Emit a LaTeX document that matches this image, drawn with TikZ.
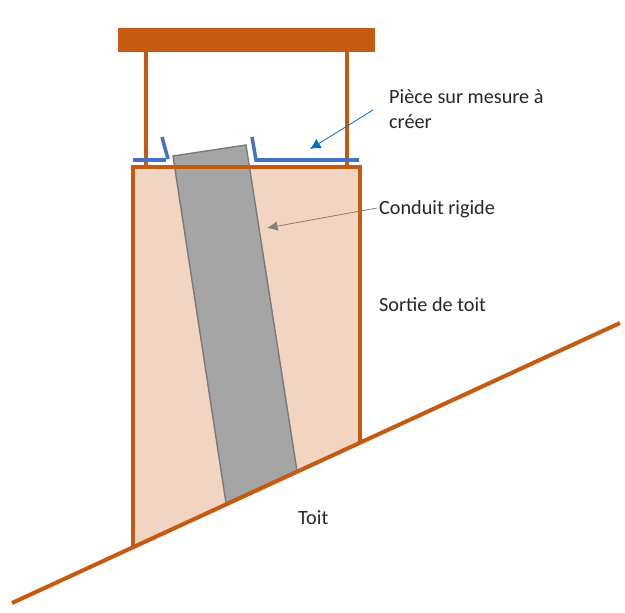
\documentclass[tikz,border=0pt]{standalone}
\usepackage{fontspec}
\usetikzlibrary{arrows.meta}
\setmainfont{Carlito}
\definecolor{toitcol}{HTML}{C55A11}
\definecolor{fondcol}{HTML}{F2D4C2}
\definecolor{piececol}{HTML}{4472C4}
\definecolor{flechecol}{HTML}{0070C0}
\definecolor{conduitcol}{HTML}{A5A5A5}
\tikzset{
    mur/.style={draw=toitcol,line width=4.6pt},
    piece/.style={draw=piececol,line width=4pt},
    legende/.style={inner sep=0pt,font=\fontsize{23}{23}\selectfont,text=black!85}
}
\begin{document}
\begin{tikzpicture}[>=latex,x=.04cm,y=-.04cm]
    \useasboundingbox (0,0) rectangle (625,613);
    \coordinate (roofL) at (12,603);
    \coordinate (roofR) at (620,323);
    \coordinate (boxBL) at (133,547);
    \coordinate (boxTL) at (133,167);
    \coordinate (boxTR) at (360,167);
    \coordinate (boxBR) at (360,444);
    \fill[fondcol] (boxBL)--(boxTL)--(boxTR)--(boxBR)--cycle;
    \draw[draw=gray!95!black,line width=1.6pt,fill=conduitcol] (173,156)--(246,145)--(297,471)--(226,503)--cycle;
    \fill[toitcol] (118,28) rectangle (375,52);
    \draw[mur] (146,52)--(146,167);
    \draw[mur] (347,52)--(347,167);
    \draw[mur] (boxBL)--(boxTL)--(boxTR)--(boxBR);
    \draw[mur] (roofL)--(roofR);
    \draw[piece] (133,160)--(166,160);
    \draw[piece] (162,137)--(168,159);
    \draw[piece] (252,137)--(256,160)--(359,160);
    \node[legende,anchor=west] (piecelabel) at (389,97){Pièce sur mesure à};
    \node[legende,anchor=west] (piecelabelb) at (389,122){créer};
    \node[legende,anchor=west] (conduitlabel) at (379,209){Conduit rigide};
    \node[legende,anchor=west] (sortielabel) at (379,305){Sortie de toit};
    \node[legende,anchor=west] (toitlabel) at (298,518){Toit};
    \coordinate (piecefrom) at (373,110);
    \coordinate (pieceto) at (310,149);
    \coordinate (conduitfrom) at (377,208);
    \coordinate (conduitto) at (267,228);
    \draw[->,draw=flechecol,line width=.9pt,>={Latex[length=12pt,width=12pt]}] (piecefrom)--(pieceto);
    \draw[->,draw=gray,line width=.9pt,>={Latex[length=12pt,width=11pt]}] (conduitfrom)--(conduitto);
\end{tikzpicture}
\end{document}
